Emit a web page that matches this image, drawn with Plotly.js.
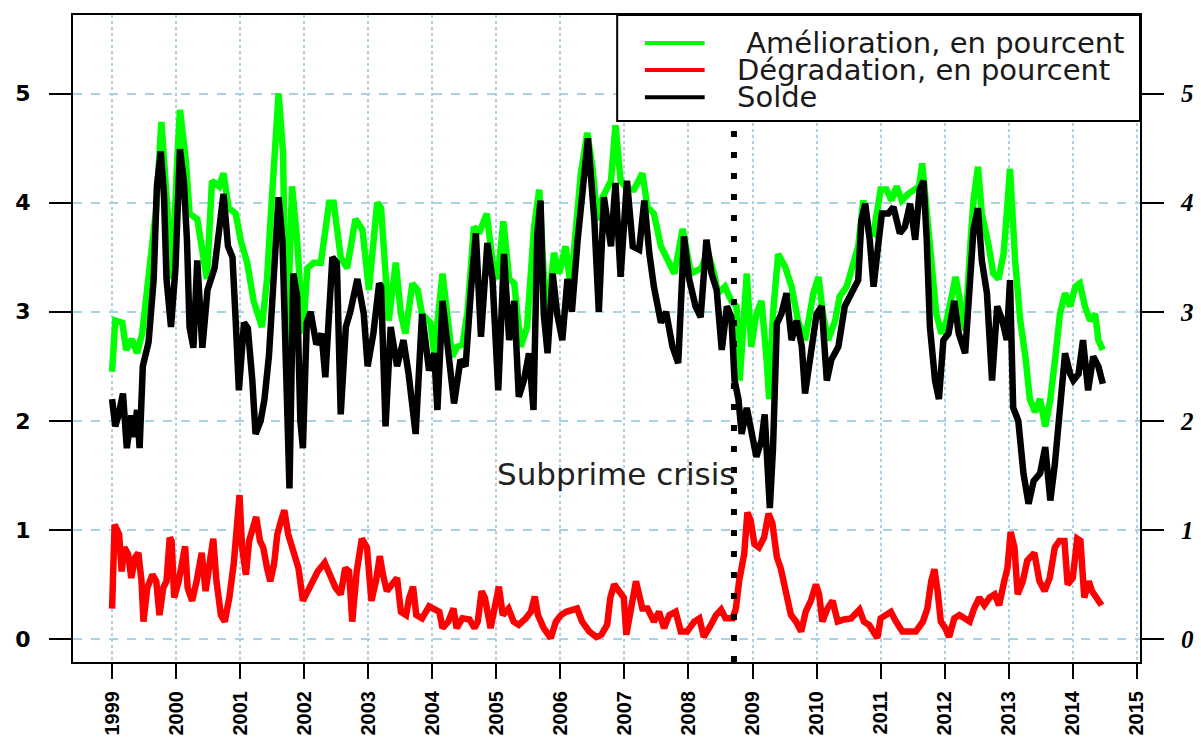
<!DOCTYPE html>
<html>
<head>
<meta charset="utf-8">
<script src="https://cdn.plot.ly/plotly-3.0.1.min.js"></script>
<style>
html,body{margin:0;padding:0;background:#fff;}
#chart{width:1201px;height:738px;}
</style>
</head>
<body>
<div id="chart"></div>
<script>
// ---------- tick labels ----------
const yearTicks = [1999,2000,2001,2002,2003,2004,2005,2006,2007,2008,2009,2010,2011,2012,2013,2014,2015];
const valueTicks = [0,1,2,3,4,5];

// ---------- Amélioration (green) ----------
const ameliorationDates = [1999.00,1999.05,1999.16,1999.22,1999.31,1999.39,1999.47,1999.55,1999.63,1999.69,1999.77,1999.82,1999.87,1999.94,
2000.01,2000.06,2000.15,2000.21,2000.33,2000.41,2000.48,2000.56,2000.67,2000.74,2000.82,2000.93,
2001.01,2001.11,2001.21,2001.34,2001.42,2001.48,2001.53,2001.60,2001.67,2001.72,2001.81,2001.89,2001.98,
2002.05,2002.15,2002.26,2002.39,2002.46,2002.57,2002.67,2002.80,2002.91,
2003.01,2003.14,2003.20,2003.32,2003.43,2003.51,2003.58,2003.69,2003.77,2003.84,2003.97,
2004.03,2004.16,2004.23,2004.31,2004.39,2004.47,2004.55,2004.65,2004.73,2004.85,2004.94,
2005.02,2005.11,2005.20,2005.28,2005.38,2005.48,2005.59,2005.67,2005.74,2005.80,2005.90,2005.98,
2006.08,2006.16,2006.24,2006.32,2006.42,2006.50,2006.58,2006.66,2006.79,2006.86,2006.94,
2007.05,2007.15,2007.28,2007.36,2007.46,2007.57,2007.65,2007.78,2007.91,
2008.04,2008.20,2008.30,2008.40,2008.46,2008.57,2008.67,2008.75,2008.80,2008.91,2008.98,
2009.06,2009.14,2009.22,2009.26,2009.32,2009.40,2009.51,2009.61,2009.71,2009.82,2009.95,
2010.03,2010.10,2010.18,2010.29,2010.36,2010.47,2010.57,2010.65,2010.73,2010.81,2010.89,
2011.00,2011.09,2011.17,2011.25,2011.33,2011.43,2011.54,2011.60,2011.65,2011.72,2011.80,2011.87,2011.95,
2012.03,2012.11,2012.17,2012.24,2012.32,2012.40,2012.45,2012.52,2012.58,2012.68,2012.76,2012.84,2012.92,2012.97,
2013.02,2013.10,2013.18,2013.26,2013.33,2013.41,2013.49,2013.57,2013.65,2013.73,2013.80,2013.88,2013.96,
2014.04,2014.11,2014.19,2014.27,2014.35,2014.40,2014.47];
const amelioration = [2.45,2.92,2.90,2.65,2.75,2.62,2.80,3.20,3.60,3.95,4.74,4.30,3.80,3.30,
4.30,4.85,4.40,3.90,3.85,3.55,3.30,4.20,4.15,4.27,3.95,3.90,
3.65,3.45,3.10,2.86,3.30,3.90,4.45,5.00,4.45,2.45,4.15,3.65,2.80,
3.40,3.45,3.45,4.00,4.00,3.50,3.40,3.85,3.75,
3.20,4.00,3.95,2.92,3.45,2.98,2.80,3.26,3.20,2.98,2.90,
2.62,3.35,2.98,2.59,2.68,2.70,3.00,3.78,3.72,3.90,3.47,
3.30,3.83,3.30,3.26,2.68,2.86,3.78,4.12,3.35,3.00,3.54,3.35,
3.60,3.23,3.72,4.27,4.64,4.33,3.84,4.05,4.20,4.71,4.20,
4.12,4.12,4.27,3.96,3.90,3.60,3.50,3.35,3.76,
3.35,3.40,3.55,3.35,3.17,3.23,3.10,3.05,2.37,3.35,2.68,
2.98,3.10,2.56,2.20,2.98,3.53,3.41,3.23,2.92,2.74,3.17,
3.32,2.98,2.74,2.92,3.14,3.23,3.41,3.60,4.02,3.75,3.72,
4.12,4.12,4.02,4.15,4.02,4.08,4.12,4.15,4.36,3.90,3.41,2.98,2.80,
2.92,3.14,3.32,3.10,2.83,3.60,4.02,4.33,3.90,3.63,3.35,3.30,3.53,3.90,
4.31,3.47,2.92,2.59,2.20,2.08,2.20,1.95,2.20,2.59,2.98,3.17,3.05,
3.23,3.26,3.05,2.92,2.98,2.74,2.65];

// ---------- Solde (black) ----------
const soldeDates = [1999.00,1999.05,1999.10,1999.17,1999.23,1999.30,1999.34,1999.39,1999.43,1999.48,1999.57,1999.65,1999.70,1999.76,1999.81,1999.85,1999.92,1999.99,
2000.06,2000.12,2000.17,2000.21,2000.27,2000.33,2000.41,2000.49,2000.60,2000.69,2000.74,2000.81,2000.88,2000.93,2000.98,
2001.06,2001.12,2001.19,2001.24,2001.32,2001.38,2001.45,2001.52,2001.60,2001.66,2001.71,2001.77,2001.83,2001.89,2001.94,2001.98,
2002.04,2002.10,2002.19,2002.27,2002.33,2002.44,2002.51,2002.57,2002.65,2002.72,2002.83,2002.93,2002.99,
2003.08,2003.17,2003.20,2003.27,2003.35,2003.45,2003.55,2003.63,2003.74,2003.84,2003.95,
2004.03,2004.08,2004.16,2004.23,2004.34,2004.44,2004.52,2004.60,2004.68,2004.76,2004.86,2004.94,
2005.03,2005.12,2005.20,2005.28,2005.35,2005.43,2005.51,2005.58,2005.64,2005.69,2005.74,2005.80,2005.88,2005.95,
2006.03,2006.11,2006.18,2006.27,2006.35,2006.43,2006.53,2006.60,2006.68,2006.79,2006.86,2006.94,
2007.04,2007.13,2007.23,2007.31,2007.39,2007.46,2007.57,2007.65,2007.75,2007.84,2007.93,
2008.01,2008.11,2008.19,2008.28,2008.36,2008.44,2008.52,2008.60,2008.67,2008.72,2008.78,2008.83,2008.91,2008.98,
2009.06,2009.14,2009.19,2009.27,2009.32,2009.38,2009.45,2009.53,2009.61,2009.69,2009.77,2009.82,2009.92,
2010.00,2010.08,2010.16,2010.23,2010.34,2010.44,2010.55,2010.65,2010.70,2010.76,2010.83,2010.89,2010.96,
2011.02,2011.12,2011.20,2011.30,2011.38,2011.46,2011.54,2011.61,2011.67,2011.72,2011.77,2011.85,2011.91,2011.98,
2012.06,2012.15,2012.22,2012.32,2012.40,2012.45,2012.52,2012.58,2012.66,2012.74,2012.82,2012.90,2012.97,
2013.02,2013.07,2013.15,2013.23,2013.31,2013.39,2013.49,2013.57,2013.65,2013.72,2013.80,2013.88,2013.96,
2014.01,2014.09,2014.16,2014.24,2014.32,2014.40,2014.47];
const solde = [2.20,1.95,2.05,2.25,1.75,2.05,1.85,2.10,1.75,2.50,2.72,3.30,4.15,4.47,4.08,3.30,2.86,3.40,
4.49,4.20,3.65,2.86,2.67,3.47,2.67,3.20,3.40,3.90,4.08,3.60,3.50,2.92,2.28,
2.90,2.85,2.37,1.88,2.00,2.20,2.60,3.30,4.05,3.65,2.37,1.38,3.35,3.14,2.00,1.75,
2.90,3.00,2.70,2.80,2.40,3.50,3.45,2.06,2.86,3.00,3.30,2.98,2.50,
2.80,3.26,3.23,1.95,2.86,2.50,2.74,2.43,1.88,2.98,2.46,
2.62,2.10,3.10,2.77,2.16,2.56,2.50,3.17,3.72,2.77,3.63,3.30,
2.28,3.53,2.74,3.10,2.22,2.37,2.62,2.10,3.72,4.02,2.98,2.62,3.35,2.98,
2.74,3.30,3.00,3.66,4.20,4.59,3.84,3.00,4.05,3.60,4.18,3.32,
4.20,3.60,3.57,4.02,3.53,3.23,2.90,3.00,2.68,2.53,3.69,
3.30,3.05,2.95,3.66,3.35,3.20,2.65,3.05,2.95,2.37,2.20,1.88,2.12,1.91,
1.67,1.82,2.06,1.20,1.75,2.89,2.98,3.17,2.74,2.92,2.68,2.25,2.68,
2.98,3.05,2.37,2.56,2.68,3.05,3.17,3.29,3.84,3.99,3.66,3.23,3.60,
3.90,3.90,3.96,3.72,3.78,3.99,3.66,4.12,4.20,3.66,2.86,2.37,2.20,2.74,
2.80,3.10,2.80,2.62,3.29,3.75,3.95,3.47,3.17,2.37,3.05,2.92,2.74,
3.29,2.12,2.00,1.52,1.24,1.45,1.52,1.76,1.27,1.60,2.19,2.62,2.43,
2.37,2.43,2.74,2.28,2.59,2.50,2.34];

// ---------- Dégradation (red) ----------
const degradationDates = [1999.00,1999.04,1999.11,1999.15,1999.19,1999.25,1999.30,1999.36,1999.41,1999.46,1999.49,1999.55,1999.63,1999.69,1999.74,1999.80,1999.85,1999.90,1999.93,1999.97,
2000.04,2000.10,2000.14,2000.18,2000.25,2000.32,2000.40,2000.46,2000.52,2000.58,2000.63,2000.70,2000.76,2000.83,2000.90,2000.95,2000.99,
2001.03,2001.09,2001.14,2001.20,2001.25,2001.31,2001.36,2001.42,2001.47,2001.53,2001.58,2001.64,2001.69,2001.75,2001.83,2001.91,2001.98,
2002.05,2002.13,2002.21,2002.32,2002.41,2002.49,2002.57,2002.64,2002.70,2002.75,2002.82,2002.90,2002.98,
2003.05,2003.12,2003.18,2003.23,2003.29,2003.37,2003.45,2003.51,2003.59,2003.64,2003.70,2003.75,2003.84,2003.95,
2004.03,2004.11,2004.16,2004.25,2004.33,2004.38,2004.47,2004.58,2004.66,2004.71,2004.77,2004.82,2004.91,2004.97,
2005.04,2005.10,2005.19,2005.27,2005.35,2005.46,2005.54,2005.60,2005.65,2005.74,2005.85,2005.93,
2006.01,2006.09,2006.17,2006.26,2006.34,2006.45,2006.56,2006.64,2006.73,2006.78,2006.84,2006.91,2006.99,
2007.03,2007.10,2007.18,2007.28,2007.36,2007.46,2007.54,2007.62,2007.70,2007.80,2007.88,2007.98,
2008.09,2008.17,2008.24,2008.35,2008.43,2008.51,2008.58,2008.69,2008.74,2008.79,2008.87,2008.92,2008.97,
2009.03,2009.10,2009.18,2009.25,2009.31,2009.38,2009.44,2009.52,2009.60,2009.68,2009.76,2009.83,2009.91,2009.99,
2010.04,2010.09,2010.17,2010.25,2010.33,2010.43,2010.54,2010.67,2010.74,2010.82,2010.90,2010.95,
2011.00,2011.08,2011.16,2011.24,2011.34,2011.45,2011.55,2011.66,2011.73,2011.79,2011.84,2011.89,2011.94,
2012.01,2012.07,2012.15,2012.23,2012.31,2012.39,2012.46,2012.54,2012.62,2012.70,2012.78,2012.85,2012.93,2012.98,
2013.03,2013.09,2013.14,2013.22,2013.29,2013.40,2013.48,2013.56,2013.64,2013.72,2013.79,2013.87,2013.92,
2014.00,2014.07,2014.12,2014.18,2014.25,2014.30,2014.38,2014.45];
const degradation = [0.28,1.05,0.96,0.62,0.84,0.78,0.56,0.75,0.79,0.53,0.16,0.47,0.59,0.53,0.22,0.47,0.53,0.93,0.90,0.38,
0.53,0.72,0.85,0.47,0.35,0.53,0.79,0.44,0.69,0.92,0.53,0.22,0.16,0.38,0.69,1.12,1.32,
0.84,0.59,0.90,1.05,1.12,0.90,0.84,0.65,0.53,0.69,0.96,1.09,1.18,0.96,0.78,0.65,0.35,
0.44,0.53,0.62,0.70,0.59,0.47,0.41,0.65,0.62,0.16,0.62,0.92,0.84,
0.35,0.53,0.76,0.59,0.44,0.50,0.56,0.25,0.22,0.38,0.48,0.22,0.19,0.30,
0.28,0.25,0.10,0.16,0.28,0.10,0.19,0.18,0.10,0.16,0.44,0.38,0.10,0.28,
0.48,0.22,0.28,0.16,0.13,0.19,0.25,0.39,0.22,0.10,0.01,0.16,
0.22,0.25,0.27,0.28,0.16,0.07,0.02,0.04,0.13,0.38,0.50,0.45,0.38,
0.04,0.28,0.53,0.28,0.28,0.16,0.25,0.10,0.22,0.25,0.07,0.07,
0.16,0.19,0.02,0.13,0.22,0.27,0.19,0.19,0.28,0.53,0.78,1.16,1.09,
0.87,0.84,0.93,1.15,1.06,0.75,0.65,0.41,0.22,0.16,0.07,0.25,0.35,0.50,
0.41,0.16,0.28,0.35,0.16,0.18,0.19,0.27,0.16,0.13,0.07,0.01,
0.19,0.22,0.25,0.16,0.07,0.07,0.07,0.16,0.28,0.53,0.64,0.44,0.16,
0.10,0.02,0.19,0.22,0.19,0.16,0.28,0.38,0.31,0.38,0.41,0.31,0.53,0.65,
0.98,0.84,0.41,0.53,0.72,0.79,0.53,0.44,0.56,0.84,0.90,0.90,0.50,
0.56,0.92,0.90,0.38,0.53,0.44,0.36,0.31];

// ---------- text ----------
const seriesNames = ['\u00a0Amélioration, en pourcent', 'Dégradation, en pourcent', 'Solde'];
const seriesColors = ['#00ff00', '#ff0000', '#000000'];
const crisisLabel = 'Subprime crisis';
const crisisDate = 2008.71;
const crisisLabelY = 1.51;

const traces = [
  {x: ameliorationDates, y: amelioration, type: 'scatter', mode: 'lines', name: seriesNames[0],
   line: {color: seriesColors[0], width: 6.5}, hoverinfo: 'skip'},
  {x: soldeDates, y: solde, type: 'scatter', mode: 'lines', name: seriesNames[2],
   line: {color: seriesColors[2], width: 6.5}, hoverinfo: 'skip'},
  {x: degradationDates, y: degradation, type: 'scatter', mode: 'lines', name: seriesNames[1],
   yaxis: 'y2', line: {color: seriesColors[1], width: 6.5}, hoverinfo: 'skip'}
];

const gridColor = '#a9d3e3';
const yRange = [-0.21, 5.72];
const legendRows = [0.9567, 0.915, 0.873];
const legendOrder = [0, 1, 2];

const shapes = [
  {type: 'line', xref: 'x', yref: 'paper', x0: crisisDate, x1: crisisDate, y0: 0, y1: 1,
   line: {color: '#000', width: 6, dash: '6px,15px'}, layer: 'above'},
  {type: 'rect', xref: 'paper', yref: 'paper', x0: 0.51, x1: 1.0, y0: 0.836, y1: 1.0,
   fillcolor: '#ffffff', line: {color: '#000', width: 2}, layer: 'above'}
];
const annotations = [
  {xref: 'x', yref: 'y', x: crisisDate + 0.04, y: crisisLabelY, text: crisisLabel, showarrow: false,
   xanchor: 'right', yanchor: 'middle', font: {family: 'DejaVu Sans', size: 31, color: '#222'}}
];
legendOrder.forEach((k, i) => {
  shapes.push({type: 'line', xref: 'paper', yref: 'paper', x0: 0.536, x1: 0.592,
    y0: legendRows[i], y1: legendRows[i], line: {color: seriesColors[k], width: 4}, layer: 'above'});
  annotations.push({xref: 'paper', yref: 'paper', x: 0.6204, y: legendRows[i], text: seriesNames[k],
    showarrow: false, xanchor: 'left', yanchor: 'middle',
    font: {family: 'DejaVu Sans', size: 29, color: '#1a1a1a'}});
});

const layout = {
  width: 1201, height: 738,
  margin: {l: 73, r: 61, t: 15, b: 76, pad: 0},
  paper_bgcolor: '#ffffff', plot_bgcolor: '#ffffff',
  showlegend: false,
  xaxis: {
    range: [1998.39, 2015.05], tickmode: 'array', tickvals: yearTicks, ticktext: yearTicks.map(String),
    tickangle: -90, ticks: 'outside', ticklen: 15, tickwidth: 2, tickcolor: '#000',
    tickfont: {family: 'Liberation Sans, Arial', size: 20, weight: 'bold', color: '#000'},
    ticklabelstandoff: 4,
    showline: true, linecolor: '#000', linewidth: 2, mirror: true,
    showgrid: true, gridcolor: gridColor, gridwidth: 2, griddash: 'dot', zeroline: false
  },
  yaxis: {
    range: yRange, tickmode: 'array', tickvals: valueTicks, ticktext: valueTicks.map(String),
    ticks: 'outside', ticklen: 22, tickwidth: 2, tickcolor: '#000',
    tickfont: {family: 'DejaVu Sans', size: 22, weight: 'bold', color: '#000'},
    ticklabelstandoff: 14,
    showline: true, linecolor: '#000', linewidth: 2, mirror: true,
    showgrid: true, gridcolor: gridColor, gridwidth: 2, griddash: 'dash', zeroline: false
  },
  yaxis2: {
    overlaying: 'y', side: 'right', range: yRange, tickmode: 'array', tickvals: valueTicks,
    ticktext: valueTicks.map(String),
    ticks: 'outside', ticklen: 22, tickwidth: 2, tickcolor: '#000',
    tickfont: {family: 'Liberation Serif', size: 25, weight: 'bold', style: 'italic', color: '#000'},
    ticklabelstandoff: 12,
    showline: true, linecolor: '#000', linewidth: 2, showgrid: false, zeroline: false
  },
  shapes: shapes,
  annotations: annotations
};

Plotly.newPlot('chart', traces, layout, {staticPlot: true, displayModeBar: false});
</script>
</body>
</html>
